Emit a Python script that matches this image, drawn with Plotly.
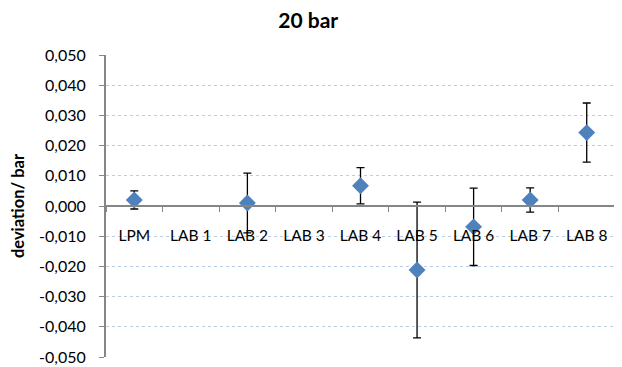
import plotly.graph_objects as go

categories = ["LPM", "LAB 1", "LAB 2", "LAB 3", "LAB 4", "LAB 5", "LAB 6", "LAB 7", "LAB 8"]
deviation = [0.002, None, 0.001, None, 0.0067, -0.0212, -0.0069, 0.002, 0.0243]
uncertainty = [0.003, None, 0.0099, None, 0.006, 0.0225, 0.0128, 0.004, 0.0098]
y_tick_vals = [0.05, 0.04, 0.03, 0.02, 0.01, 0.0, -0.01, -0.02, -0.03, -0.04, -0.05]
y_tick_text = ["0,050", "0,040", "0,030", "0,020", "0,010", "0,000",
               "-0,010", "-0,020", "-0,030", "-0,040", "-0,050"]

FONT = "Lato, Open Sans, sans-serif"

# the page body has an 8px default margin, so the figure is 8px smaller
fig = go.Figure()
fig.add_trace(go.Scatter(
    x=categories, y=deviation, mode="markers",
    marker=dict(symbol="diamond", size=13, color="#4F81BD"),
    error_y=dict(type="data", array=uncertainty, visible=True,
                 color="black", thickness=1.3, width=4),
    showlegend=False, cliponaxis=False,
))

fig.update_layout(
    width=614, height=359,
    margin=dict(l=98, r=7, t=47, b=10),
    paper_bgcolor="white", plot_bgcolor="white",
    title=dict(text="<b>20 bar</b>", xref="container", x=0.489, xanchor="center",
               yref="container", y=0.965, yanchor="middle",
               font=dict(family=FONT, size=21, color="black")),
    font=dict(family=FONT, size=15, color="black"),
    xaxis=dict(
        type="category", anchor="free", position=0.5, automargin=False,
        showline=True, linecolor="#868686", linewidth=2,
        ticks="outside", ticklen=5, tickcolor="#868686", tickwidth=1,
        tickson="boundaries", showgrid=False, zeroline=False,
        ticklabelstandoff=15, tickfont=dict(size=15.5, family=FONT),
        range=[-0.5, 8.5],
    ),
    yaxis=dict(
        range=[-0.05, 0.05], tickvals=y_tick_vals, ticktext=y_tick_text, automargin=False,
        showline=True, linecolor="#868686", linewidth=2,
        ticks="outside", ticklen=5, tickcolor="#868686",
        showgrid=True, gridcolor="#B9CDE5", griddash="dot", gridwidth=1,
        zeroline=False, tickfont=dict(size=16, family=FONT),
        ticklabelstandoff=10,
        title=dict(text="<b>deviation/ bar</b>", font=dict(size=16.5, family=FONT), standoff=16),
    ),
)

fig.write_html("out.html")
